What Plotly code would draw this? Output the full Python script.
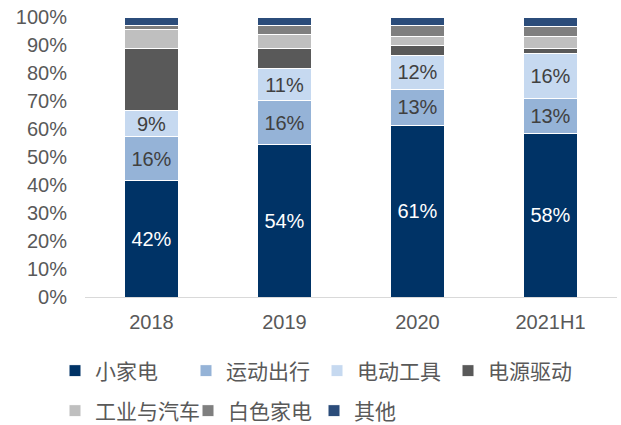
import plotly.graph_objects as go

categories = ["2018", "2019", "2020", "2021H1"]
small_appliance = [41.6, 54.4, 61.4, 58.4]   # 小家电
sports_travel = [15.7, 15.7, 12.8, 12.6]      # 运动出行
power_tools = [9.2, 11.4, 12.1, 15.8]         # 电动工具
power_drive = [22.1, 7.4, 3.5, 1.9]           # 电源驱动
industry_auto = [7.1, 4.7, 3.2, 4.2]          # 工业与汽车
white_goods = [1.1, 3.2, 3.8, 3.6]            # 白色家电
others = [3.2, 3.2, 3.2, 3.5]                 # 其他

series = [
    ("小家电", small_appliance, "#003366", True, "#ffffff", "legend"),
    ("运动出行", sports_travel, "#95b3d7", True, "#404040", "legend"),
    ("电动工具", power_tools, "#c6d9f0", True, "#404040", "legend"),
    ("电源驱动", power_drive, "#595959", False, None, "legend"),
    ("工业与汽车", industry_auto, "#bfbfbf", False, None, "legend2"),
    ("白色家电", white_goods, "#7f7f7f", False, None, "legend3"),
    ("其他", others, "#2b4c7a", False, None, "legend3"),
]

FONT = "Arial, Liberation Sans, Noto Sans CJK SC, sans-serif"

fig = go.Figure()
for name, vals, color, show_text, tcolor, leg in series:
    if show_text:
        kw = dict(
            text=[f"{round(v):d}%" for v in vals],
            textposition="inside",
            insidetextanchor="middle",
            textangle=0,
            constraintext="none",
            textfont=dict(size=20, color=tcolor, family=FONT),
        )
    else:
        kw = dict(textposition="none")
    fig.add_trace(go.Bar(
        name=name, x=categories, y=vals,
        marker=dict(color=color, line=dict(color="#ffffff", width=1)),
        width=0.4, legend=leg, hoverinfo="skip", **kw,
    ))

W, H = 621, 425


def legend_cfg(x_px, y_px, entry):
    cfg = dict(
        orientation="h", xref="container", yref="container",
        x=x_px / W, y=1 - y_px / H,
        xanchor="left", yanchor="middle",
        font=dict(size=21, color="#595959", family=FONT),
        traceorder="normal",
        bgcolor="rgba(0,0,0,0)",
    )
    if entry:
        cfg.update(entrywidth=entry, entrywidthmode="pixels")
    return cfg


fig.update_layout(
    barmode="stack",
    width=W, height=H,
    margin=dict(l=85, r=4, t=17, b=128, autoexpand=False),
    plot_bgcolor="white", paper_bgcolor="white",
    font=dict(family=FONT, color="#595959"),
    xaxis=dict(
        showline=True, linecolor="#d9d9d9", linewidth=1,
        ticks="", tickfont=dict(size=20, color="#595959", family=FONT),
        showgrid=False, ticklabelstandoff=7,
    ),
    yaxis=dict(
        range=[0, 100], dtick=10, ticksuffix="%", showgrid=False,
        zeroline=False, showline=False, ticks="",
        tickfont=dict(size=20, color="#595959", family=FONT),
        ticklabelstandoff=17,
    ),
    legend=legend_cfg(55, 371, 86),
    legend2=legend_cfg(55, 411, None),
    legend3=legend_cfg(188, 411, 81),
)

fig.write_html(
    "out.html",
    config={"displayModeBar": False},
    post_script="document.body.style.margin='0';document.body.style.overflow='hidden';",
)
